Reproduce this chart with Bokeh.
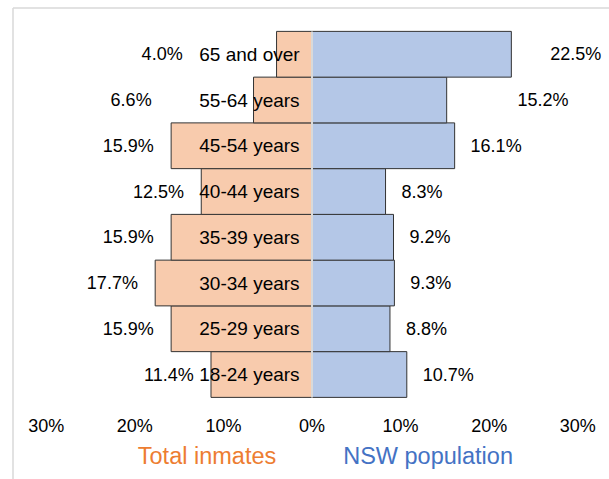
from bokeh.plotting import figure
from bokeh.models import ColumnDataSource, LinearAxis, FixedTicker, CustomJSTickFormatter, Range1d
from bokeh.core.properties import value
from bokeh.embed import file_html
from bokeh.resources import INLINE

# ---- data (bottom to top) ----
age_groups = ["18-24 years", "25-29 years", "30-34 years", "35-39 years",
              "40-44 years", "45-54 years", "55-64 years", "65 and over"]
inmates = [11.4, 15.9, 17.7, 15.9, 12.5, 15.9, 6.6, 4.0]
nsw_pop = [10.7, 8.8, 9.3, 9.2, 8.3, 16.1, 15.2, 22.5]
tick_values = [-30, -20, -10, 0, 10, 20, 30]
series_names = ["Total inmates", "NSW population"]

# ---- styling / layout ----
FONT = "Liberation Sans"
W, H = 609, 479
PX_PER_UNIT_X = 8.86
ZERO_PX = 311.5
PX_PER_UNIT_Y = 45.75
BASE_PX = 374

x_start = -ZERO_PX / PX_PER_UNIT_X
x_end = (W - ZERO_PX) / PX_PER_UNIT_X
y_end = BASE_PX / PX_PER_UNIT_Y
y_start = (BASE_PX - H) / PX_PER_UNIT_Y

ypos = list(range(len(age_groups)))

# label placement (manual offsets as in the original)
left_override = {"65 and over": -14.6, "55-64 years": -18.1}
right_override = {"65 and over": 26.9, "55-64 years": 23.2}
inm_lx = [left_override.get(a, -v - 1.95) for a, v in zip(age_groups, inmates)]
nsw_lx = [right_override.get(a, v + 1.8) for a, v in zip(age_groups, nsw_pop)]

src = ColumnDataSource(dict(
    y=ypos, age=age_groups,
    inm_left=[-v for v in inmates], nsw=nsw_pop,
    inm_lab=[f"{v:.1f}%" for v in inmates],
    nsw_lab=[f"{v:.1f}%" for v in nsw_pop],
    inm_lx=inm_lx, nsw_lx=nsw_lx,
    cat_x=[-1.4] * len(age_groups),
))

p = figure(width=W, height=H, output_backend="svg", toolbar_location=None,
           x_range=Range1d(x_start, x_end), y_range=Range1d(y_start, y_end),
           min_border=0, x_axis_type=None, y_axis_type=None)
p.grid.visible = False
p.outline_line_color = None
p.background_fill_color = "white"
p.border_fill_color = "white"

# chart-area border (left and top visible)
bx = (12.5 - ZERO_PX) / PX_PER_UNIT_X
by = (BASE_PX - 7.5) / PX_PER_UNIT_Y
p.segment(x0=[bx, bx], y0=[y_start, by], x1=[bx, x_end], y1=[by, by],
          line_color="#d9d9d9", line_width=1.5)

# bars
p.hbar(y="y", left="inm_left", right=0, height=1.0, source=src,
       fill_color="#F8CBAD", line_color="#333333", line_width=1)
p.hbar(y="y", left=0, right="nsw", height=1.0, source=src,
       fill_color="#B4C7E7", line_color="#333333", line_width=1)

# zero line between the bars
p.segment(x0=0, y0=ypos[0] - 0.5, x1=0, y1=ypos[-1] + 0.5,
          line_color="#d9d9d9", line_width=2)

# category labels
p.text(x="cat_x", y="y", text="age", source=src, text_align="right",
       text_baseline="middle", text_font=value(FONT), text_font_size="19px",
       text_color="#000000")
# value labels
p.text(x="inm_lx", y="y", text="inm_lab", source=src, text_align="right",
       text_baseline="middle", text_font=value(FONT), text_font_size="18px",
       text_color="#000000")
p.text(x="nsw_lx", y="y", text="nsw_lab", source=src, text_align="left",
       text_baseline="middle", text_font=value(FONT), text_font_size="18px",
       text_color="#000000")

# x axis inside the chart area
ax = LinearAxis(fixed_location=-0.9, ticker=FixedTicker(ticks=tick_values),
                formatter=CustomJSTickFormatter(code="return Math.abs(tick) + '%';"))
ax.axis_line_color = None
ax.major_tick_line_color = None
ax.minor_tick_line_color = None
ax.major_tick_out = 0
ax.major_label_standoff = 0
ax.major_label_text_font = FONT
ax.major_label_text_font_size = "18px"
ax.major_label_text_color = "#000000"
p.add_layout(ax, "below")

# legend (text-only, coloured)
leg = ColumnDataSource(dict(x=[-11.85, 13.1], y=[-1.79, -1.79], t=series_names,
                            c=["#ED7D31", "#4472C4"]))
p.text(x="x", y="y", text="t", text_color="c", source=leg, text_align="center",
       text_baseline="middle", text_font=value(FONT), text_font_size="23.5px")

open("out.html", "w").write(file_html(p, INLINE))
